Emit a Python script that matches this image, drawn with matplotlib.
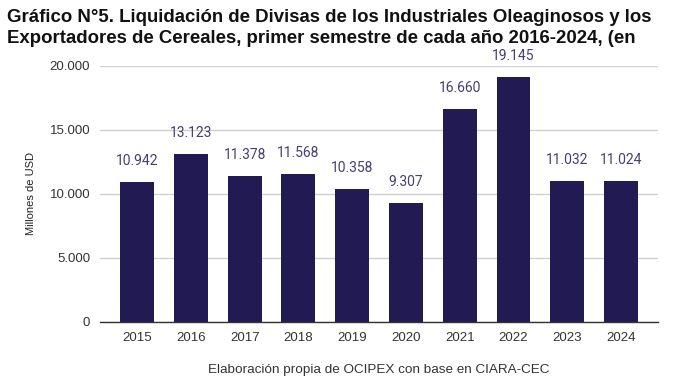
import matplotlib.pyplot as plt

years = ["2015", "2016", "2017", "2018", "2019", "2020", "2021", "2022", "2023", "2024"]
values = [10942, 13123, 11378, 11568, 10358, 9307, 16660, 19145, 11032, 11024]
value_labels = ["10.942", "13.123", "11.378", "11.568", "10.358", "9.307",
                "16.660", "19.145", "11.032", "11.024"]
y_ticks = [0, 5000, 10000, 15000, 20000]
y_tick_labels = ["0", "5.000", "10.000", "15.000", "20.000"]

bar_color = "#221a52"
label_color = "#453f72"

fig = plt.figure(figsize=(6.79, 3.81), dpi=100)
ax = fig.add_axes([0.1473, 0.155, 0.822, 0.672])

x = range(len(years))
ax.bar(x, values, width=0.63, color=bar_color, zorder=3)

# value labels above each bar
for i, (v, lab) in enumerate(zip(values, value_labels)):
    ax.text(i, v + 1650, lab, ha="center", va="center", fontsize=10,
            color=label_color, family="Roboto", clip_on=False)

ax.set_xlim(-0.69, len(years) - 1 + 0.69)
ax.set_ylim(0, 20000)
ax.set_xticks(list(x))
ax.set_xticklabels(years, fontsize=9.5, color="#333333", family="Liberation Sans")
ax.set_yticks(y_ticks)
ax.set_yticklabels(y_tick_labels, fontsize=9.5, color="#333333", family="Liberation Sans")
ax.tick_params(axis="both", length=0, pad=7)
ax.grid(axis="y", color="#d0d0d0", linewidth=1, zorder=0)

for s in ["top", "right", "left"]:
    ax.spines[s].set_visible(False)
ax.spines["bottom"].set_color("#333333")
ax.spines["bottom"].set_linewidth(1)
ax.spines["bottom"].set_zorder(4)

ax.set_ylabel("Millones de USD", fontsize=8, color="#222222", family="Liberation Sans", labelpad=10)

fig.text(0.557, 0.029, "Elaboración propia de OCIPEX con base en CIARA-CEC", ha="center",
         va="center", fontsize=9.7, color="#333333", family="Liberation Sans")

fig.text(0.01, 0.976, "Gráfico N°5. Liquidación de Divisas de los Industriales Oleaginosos y los\n"
         "Exportadores de Cereales, primer semestre de cada año 2016-2024, (en",
         ha="left", va="top", fontsize=13.4, fontweight="bold", color="#111111",
         family="Liberation Sans", linespacing=1.3)

fig.savefig("out.png", dpi=100)
